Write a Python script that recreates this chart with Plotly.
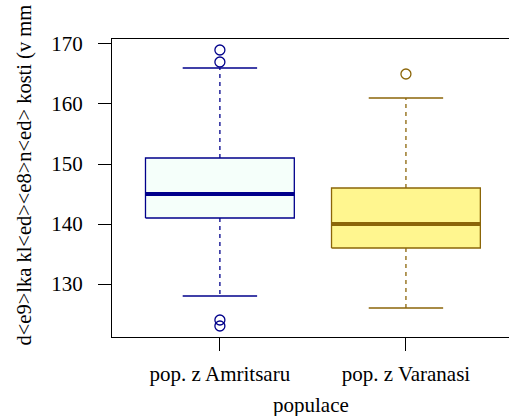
import plotly.graph_objects as go

categories = ["pop. z Amritsaru", "pop. z Varanasi"]
q1 = [141, 136]
median = [145, 140]
q3 = [151, 146]
lower_whisker = [128, 126]
upper_whisker = [166, 161]
outliers = [[169, 167, 124, 123], [165]]
y_ticks = [130, 140, 150, 160, 170]

edge_colors = ["#00008B", "#8B6508"]
fill_colors = ["#F5FFFA", "#FFF68F"]

FONT = "Liberation Serif, Times New Roman, serif"
BOX_HALF = 0.4
CAP_HALF = 0.2

fig = go.Figure()
for i, cat in enumerate(categories):
    c = i + 1
    col = edge_colors[i]
    # whiskers (dashed)
    fig.add_trace(go.Scatter(x=[c, c], y=[q3[i], upper_whisker[i]], mode="lines",
                             line=dict(color=col, width=1.3, dash="4px,4px"), showlegend=False, hoverinfo="skip"))
    fig.add_trace(go.Scatter(x=[c, c], y=[q1[i], lower_whisker[i]], mode="lines",
                             line=dict(color=col, width=1.3, dash="4px,4px"), showlegend=False, hoverinfo="skip"))
    # caps
    fig.add_trace(go.Scatter(x=[c - CAP_HALF, c + CAP_HALF], y=[upper_whisker[i]] * 2, mode="lines",
                             line=dict(color=col, width=1.3), showlegend=False, hoverinfo="skip"))
    fig.add_trace(go.Scatter(x=[c - CAP_HALF, c + CAP_HALF], y=[lower_whisker[i]] * 2, mode="lines",
                             line=dict(color=col, width=1.3), showlegend=False, hoverinfo="skip"))
    # box
    fig.add_trace(go.Scatter(x=[c - BOX_HALF, c + BOX_HALF, c + BOX_HALF, c - BOX_HALF, c - BOX_HALF],
                             y=[q1[i], q1[i], q3[i], q3[i], q1[i]], mode="lines", fill="toself",
                             fillcolor=fill_colors[i], line=dict(color=col, width=1.3),
                             showlegend=False, hoverinfo="skip"))
    # median
    fig.add_trace(go.Scatter(x=[c - BOX_HALF, c + BOX_HALF], y=[median[i]] * 2, mode="lines",
                             line=dict(color=col, width=4), showlegend=False, hoverinfo="skip"))
    # outliers
    fig.add_trace(go.Scatter(x=[c] * len(outliers[i]), y=outliers[i], mode="markers",
                             marker=dict(symbol="circle-open", size=10, color=col, line=dict(width=1.3)),
                             showlegend=False, hoverinfo="skip"))

fig.update_layout(
    width=509, height=416,
    margin=dict(l=112, r=0, t=39, b=79),
    plot_bgcolor="white", paper_bgcolor="white",
    font=dict(family=FONT, size=21, color="black"),
    xaxis=dict(range=[0.42, 2.554], tickvals=[1, 2], ticktext=categories,
               showgrid=False, zeroline=False, showline=True, mirror=True,
               linecolor="black", linewidth=1.2, ticks="outside", ticklen=13,
               tickwidth=1.2, tickcolor="black", ticklabelstandoff=5),
    yaxis=dict(range=[121.17, 170.83], tickvals=y_ticks, showgrid=False, zeroline=False,
               showline=True, linecolor="black", linewidth=1.2, ticks="outside", ticklen=13,
               tickwidth=1.2, tickcolor="black", ticklabelstandoff=11),
    annotations=[
        dict(text="populace", xref="paper", yref="paper", x=0.5, y=(337 - 405) / 298,
             xanchor="center", yanchor="middle", showarrow=False, font=dict(family=FONT, size=21)),
        dict(text="d&lt;e9&gt;lka kl&lt;ed&gt;&lt;e8&gt;n&lt;ed&gt; kosti (v mm", xref="paper", yref="paper",
             x=(24 - 112) / 397, y=(337 - 348) / 298, xanchor="center", yanchor="bottom",
             textangle=-90, showarrow=False, font=dict(family=FONT, size=20.5)),
    ],
)

fig.write_html("out.html")
